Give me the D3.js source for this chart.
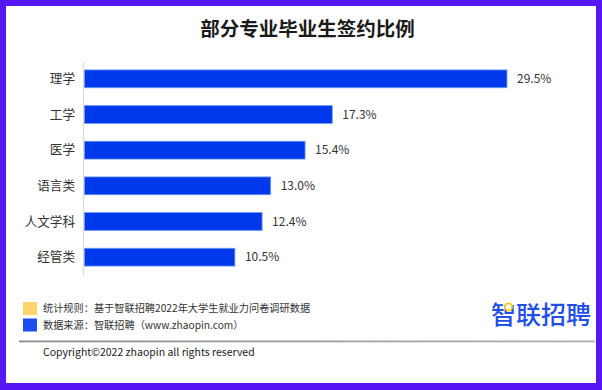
<!DOCTYPE html>
<html><head><meta charset="utf-8">
<script src="https://cdn.jsdelivr.net/npm/d3@7"></script>
<style>
html,body{margin:0;padding:0;background:#5518f5;}
svg{display:block;}
text{font-family:"Noto Sans CJK SC","Noto Sans",sans-serif;}
</style></head><body>
<svg id="chart" width="602" height="390"></svg>
<script>
const title = "部分专业毕业生签约比例";
const categories = ["理学","工学","医学","语言类","人文学科","经管类"];
const values = [29.5,17.3,15.4,13.0,12.4,10.5];
const valueLabels = ["29.5%","17.3%","15.4%","13.0%","12.4%","10.5%"];
const legendItems = ["统计规则：基于智联招聘2022年大学生就业力问卷调研数据","数据来源：智联招聘（www.zhaopin.com）"];
const legendColors = ["#ffd56b","#1f4cf0"];
const logoText = "智联招聘";
const copyright = "Copyright©2022 zhaopin all rights reserved";

const svg = d3.select("#chart");
svg.append("rect").attr("x",0).attr("y",0).attr("width",602).attr("height",390).attr("fill","#5518f5");
svg.append("rect").attr("x",6).attr("y",6).attr("width",590).attr("height",377).attr("fill","#fff");

svg.append("text").attr("x",307.5).attr("y",28.5).attr("dy","0.36em").attr("text-anchor","middle")
  .attr("font-size",19.5).attr("font-weight","bold").attr("fill","#1a1a1a").text(title);

const x0 = 84.5;
const x = d3.scaleLinear().domain([0,29.5]).range([x0,507]);
const y = d3.scaleBand().domain(categories).range([61,275]).paddingInner(0.5).paddingOuter(0.25);

svg.append("line").attr("x1",83.5).attr("x2",83.5).attr("y1",62).attr("y2",276)
  .attr("stroke","#d9d9d9").attr("stroke-width",1);

const g = svg.append("g");
g.selectAll("rect.bar").data(categories).join("rect").attr("class","bar")
  .attr("x",x(0)).attr("y",d=>y(d))
  .attr("width",(d,i)=>x(values[i])-x(0)).attr("height",y.bandwidth())
  .attr("fill","#0039ec").attr("stroke","#6f9bf5").attr("stroke-width",0.8);

g.selectAll("text.val").data(categories).join("text").attr("class","val")
  .attr("x",(d,i)=>x(values[i])+10).attr("y",d=>y(d)+y.bandwidth()/2)
  .attr("dy","0.35em").attr("font-size",12).attr("fill","#333").text((d,i)=>valueLabels[i]);

const yAxis = d3.axisLeft(y).tickSize(0).tickPadding(9);
const ag = svg.append("g").attr("transform",`translate(${x0-0.5},0)`).call(yAxis);
ag.select(".domain").remove();
ag.selectAll("text").attr("font-size",12.6).attr("fill","#333")
  .style("font-family",'"Noto Sans CJK SC",sans-serif');

// legend
legendItems.forEach((t,i)=>{
  svg.append("rect").attr("x",23).attr("y",302+i*16.5).attr("width",14).attr("height",13).attr("fill",legendColors[i]);
  svg.append("text").attr("x",43).attr("y",308.5+i*16.5).attr("dy","0.35em").attr("font-size",10.2)
    .attr("fill","#333").text(t);
});

// logo
svg.append("text").attr("x",591).attr("y",315).attr("dy","0.36em").attr("text-anchor","end")
  .attr("font-size",25).attr("font-weight",500).attr("fill","#1f4fe6").text(logoText);
svg.append("circle").attr("cx",508.5).attr("cy",307).attr("r",3.6).attr("fill","#fff")
  .attr("stroke","#ffc61a").attr("stroke-width",1.8);

// footer line
const grad = svg.append("defs").append("linearGradient").attr("id","lg");
grad.append("stop").attr("offset","0%").attr("stop-color","#8c8c8c");
grad.append("stop").attr("offset","100%").attr("stop-color","#b0b0b0");
svg.append("rect").attr("x",19).attr("y",340.5).attr("width",576).attr("height",1.8).attr("fill","url(#lg)");

svg.append("text").attr("x",43).attr("y",352.5).attr("dy","0.35em").attr("font-size",10.5)
  .attr("fill","#222").text(copyright);
</script></body></html>
